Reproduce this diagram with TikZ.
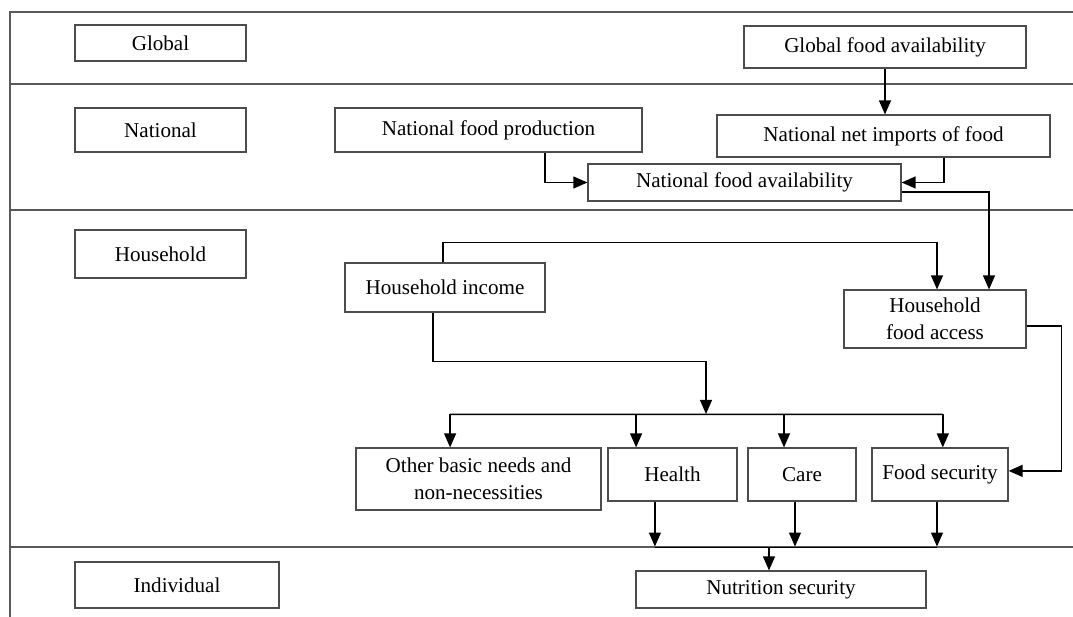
\documentclass[tikz,border=0pt]{standalone}
\usepackage{fontspec}
\setmainfont{Liberation Serif}
\usetikzlibrary{arrows.meta}
\tikzstyle{level box}=[
    draw = black!70,
    line width = 0.8pt,
    fill = white,
    rectangle,
    align = center,
    inner sep = 0pt,
    font = \fontsize{15}{19}\selectfont
]

\begin{document}
\begin{tikzpicture}[x=0.025cm, y=-0.025cm,
    layer line/.style = {draw=black!65, line width=0.8pt},
    wire/.style = {draw=black, line width=1pt},
    flow/.style = {wire, -{Triangle[length=10pt, width=8.5pt]}}]
        \useasboundingbox (0,0) rectangle (1073,617);

        % levels
        \draw[layer line] (1073,12) -- (10,12) -- (10,617);
        \foreach \y in {84,210,547}
            \draw[layer line] (10,\y) -- (1073,\y);

        \node[level box, minimum width=4.275cm, minimum height=0.9cm] (glob) at (160.5,43) {Global};
        \node[level box, minimum width=4.275cm, minimum height=1.1cm] (natl) at (160.5,130) {National};
        \node[level box, minimum width=4.275cm, minimum height=1.2cm] (hh) at (160.5,254) {Household};
        \node[level box, minimum width=5.1cm, minimum height=1.15cm] (indiv) at (177,585) {Individual};

        % global and national
        \node[level box, minimum width=7.05cm, minimum height=1.05cm] (gfa) at (885,47) {Global food availability};
        \node[level box, minimum width=7.675cm, minimum height=1.1cm] (nfp) at (488.5,130) {National food production};
        \node[level box, minimum width=8.325cm, minimum height=1.05cm] (nni) at (883.5,136) {National net imports of food};
        \node[level box, minimum width=7.825cm, minimum height=0.925cm] (nfa) at (744.5,182.5) {National food availability};

        % household
        \node[level box, minimum width=5cm, minimum height=1.225cm] (hi) at (445,287.5) {Household income};
        \node[level box, minimum width=4.55cm, minimum height=1.45cm] (hfa) at (935,319) {Household\\food access};
        \node[level box, minimum width=6.125cm, minimum height=1.55cm] (obn) at (478.5,479) {Other basic needs and\\non-necessities};
        \node[level box, minimum width=3.225cm, minimum height=1.325cm] (hlth) at (672.5,474.5) {Health};
        \node[level box, minimum width=2.7cm, minimum height=1.325cm] (care) at (802,474.5) {Care};
        \node[level box, minimum width=3.4cm, minimum height=1.325cm] (fs) at (940,474.5) {Food security};

        % individual
        \node[level box, minimum width=7.25cm, minimum height=0.925cm] (nut) at (781,589.5) {Nutrition security};

        \coordinate (split) at (706,414);
        \coordinate (merge) at (769,547);

        \draw[flow] (gfa.south) -- (gfa.south |- nni.north);
        \draw[flow] ([xshift=1.41cm]nfp.south) |- (nfa.west);
        \draw[flow] ([xshift=1.51cm]nni.south) |- (nfa.east);
        \draw[flow] ([yshift=-0.24cm]nfa.east) -| ([xshift=1.35cm]hfa.north);
        \draw[flow] ([xshift=-0.05cm]hi.north) -- ++(0,-20) -| ([xshift=0.05cm]hfa.north);
        \draw[flow] ([xshift=-0.3cm]hi.south) -- ++(0,49) -| (split);
        \draw[wire] ([xshift=-0.71cm, yshift=0.825cm]obn.north) -- ([xshift=0.07cm, yshift=0.825cm]fs.north);
        \foreach \n/\dx in {obn/-0.71, hlth/-0.91, care/-0.45, fs/0.07}
            \draw[flow] ([xshift=\dx cm, yshift=0.825cm]\n.north) -- ([xshift=\dx cm]\n.north);
        \draw[flow] ([yshift=-0.175cm]hfa.east) -- ++(35,0) |- ([yshift=0.09cm]fs.east);

        \foreach \n/\dx in {hlth/-0.44, care/-0.175, fs/-0.075}
            \draw[flow] ([xshift=\dx cm]\n.south) -- ++(0,45);
        \draw[wire] ([xshift=-0.44cm, yshift=-1.15cm]hlth.south) -- ([xshift=-0.075cm, yshift=-1.15cm]fs.south);
        \draw[flow] (merge) -- (merge |- nut.north);

    \end{tikzpicture}
\end{document}
